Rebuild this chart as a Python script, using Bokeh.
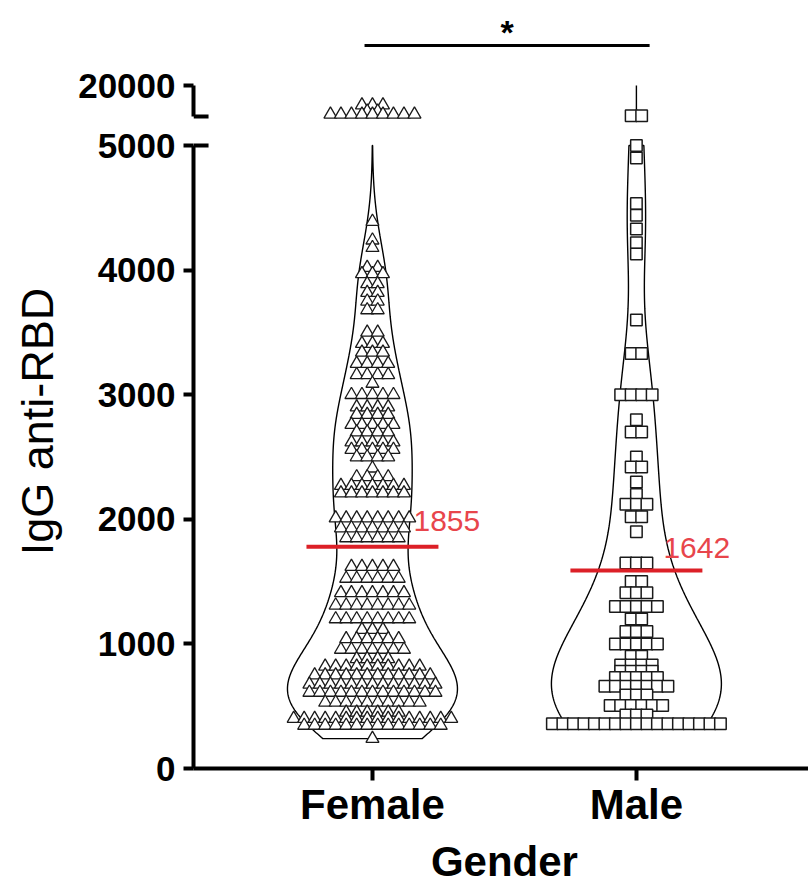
import numpy as np
from bokeh.plotting import figure
from bokeh.layouts import column, row
from bokeh.models import FixedTicker, Range1d
from bokeh.embed import file_html
from bokeh.resources import INLINE
from bokeh.core.properties import value

# ---------------- data ----------------
groups = ["Female", "Male"]
group_x = [1, 2]

female_row_values = [10500, 7500, 6000,
                     4390, 4240, 4180, 4020, 3970, 3890, 3820, 3750, 3680, 3500, 3410,
                     3340, 3250, 3160, 3090, 3000, 2900, 2840, 2760, 2700, 2620, 2560,
                     2500, 2410, 2340, 2270, 2210, 2010, 1930, 1850, 1620, 1525, 1410,
                     1310, 1200, 1115, 1040, 955, 880, 820, 750, 675, 610, 530, 450,
                     400, 345, 240]
female_row_counts = [3, 2, 9,
                     1, 1, 1, 2, 3, 2, 2, 2, 2, 2, 3,
                     3, 4, 4, 1, 5, 4, 4, 5, 4, 5, 5,
                     4, 1, 4, 7, 7, 8, 7, 6, 5, 6, 7,
                     8, 8, 3, 6, 7, 4, 10, 12, 13, 13, 10, 6,
                     16, 14, 1]

male_row_values = [5400,
                   5000, 4900, 4535, 4440, 4330, 4220, 4130, 3600, 3330, 3000,
                   2800, 2700, 2500, 2420, 2300, 2200, 2120, 2020, 1900, 1650,
                   1500, 1410, 1300, 1200, 1100, 1000, 900, 830, 780, 730, 660,
                   590, 505, 430, 360]
male_row_counts = [2,
                   1, 1, 1, 1, 1, 1, 1, 1, 2, 4,
                   1, 2, 1, 2, 1, 1, 3, 2, 1, 3,
                   2, 3, 5, 2, 3, 5, 2, 4, 4, 5, 7,
                   3, 6, 3, 17]

male_violin_top = 20000          # violin outline of Male reaches the axis top
mean_line_values = [1780, 1590]  # red lines as drawn
mean_labels = ["1855", "1642"]

y_ticks_lower = [0, 1000, 2000, 3000, 4000, 5000]
y_ticks_upper = [20000]
axis_break = 5000
sig_text = "*"
y_title = "IgG anti-RBD"
x_title = "Gender"

# ---------------- helpers ----------------
FONT = "Liberation Sans"
spacing = 0.0398
max_half = 0.322


def swarm(center, vals, counts):
    xs, ys = [], []
    for v, n in zip(vals, counts):
        for i in range(n):
            xs.append(center + (i - (n - 1) / 2) * spacing)
            ys.append(v)
    return np.array(xs), np.array(ys, float)


def kde(data, grid, bw):
    d = (grid[:, None] - data[None, :]) / bw
    return np.exp(-0.5 * d * d).sum(axis=1)


def violin_parts(center, data, top, bw):
    lo = data.min()
    g_all = np.linspace(lo, top, 3000)
    norm = kde(data, g_all, bw).max()
    parts = []
    g1 = np.linspace(lo, min(top, axis_break), 500)
    w1 = kde(data, g1, bw) / norm * max_half
    parts.append((np.concatenate([center - w1, (center + w1)[::-1]]),
                  np.concatenate([g1, g1[::-1]])))
    if top > axis_break:
        g2 = np.linspace(axis_break, top, 500)
        w2 = kde(data, g2, bw) / norm * max_half
        parts.append((np.concatenate([center - w2, (center + w2)[::-1]]),
                      np.concatenate([g2, g2[::-1]])))
    else:
        parts.append(None)
    return parts


fx, fy = swarm(group_x[0], female_row_values, female_row_counts)
mx, my = swarm(group_x[1], male_row_values, male_row_counts)

f_parts = violin_parts(group_x[0], fy, fy.max(), 290)
m_parts = violin_parts(group_x[1], my, male_violin_top, 420)

TOTAL_H = 891
LEFT_W = 72
MAIN_W = 808 - LEFT_W
BORDER_L = 193 - LEFT_W
TOP_H = 124
LOW_H = 706
BOT_H = TOTAL_H - TOP_H - LOW_H

xr = Range1d(0.322, 2.652)


def clean(p):
    p.grid.visible = False
    p.outline_line_color = None
    p.background_fill_color = "white"
    p.border_fill_color = "white"


# ---------------- top (broken) segment ----------------
ptop = figure(width=MAIN_W, height=TOP_H, x_range=xr, y_range=Range1d(1129, 61132),
              output_backend="svg", toolbar_location=None, x_axis_location=None,
              min_border_left=BORDER_L, min_border_right=0, min_border_top=0,
              min_border_bottom=0)
# lower segment
plow = figure(width=MAIN_W, height=LOW_H, x_range=xr, y_range=Range1d(0, 5169),
              output_backend="svg", toolbar_location=None,
              min_border_left=BORDER_L, min_border_right=0, min_border_top=0,
              min_border_bottom=LOW_H - 644)
# strip for x title
pbot = figure(width=MAIN_W, height=BOT_H, x_range=xr, y_range=Range1d(0, BOT_H),
              output_backend="svg", toolbar_location=None, x_axis_location=None,
              y_axis_location=None, min_border_left=BORDER_L, min_border_right=0,
              min_border_top=0, min_border_bottom=0)
# strip for y title
pleft = figure(width=LEFT_W, height=TOTAL_H, x_range=Range1d(0, LEFT_W),
               y_range=Range1d(0, TOTAL_H), output_backend="svg", toolbar_location=None,
               x_axis_location=None, y_axis_location=None, min_border=0)

for p in (ptop, plow, pbot, pleft):
    clean(p)

for p in (ptop, plow):
    ax = p.yaxis[0]
    ax.axis_line_width = 4
    ax.major_tick_line_width = 4
    ax.major_tick_out = 10
    ax.major_tick_in = 0
    ax.minor_tick_line_color = None
    ax.major_label_text_font = FONT
    ax.major_label_text_font_style = "bold"
    ax.major_label_text_font_size = "35px"
    ax.major_label_text_color = "black"
    ax.major_label_standoff = 8
    # break caps pointing into the plot
    p.segment(x0=[xr.start], x1=[xr.start + 0.057], y0=[axis_break], y1=[axis_break],
              line_color="black", line_width=4)

ptop.yaxis[0].ticker = FixedTicker(ticks=y_ticks_upper)
ptop.yaxis[0].bounds = (axis_break, y_ticks_upper[-1])
plow.yaxis[0].ticker = FixedTicker(ticks=y_ticks_lower)
plow.yaxis[0].bounds = (0, axis_break)

xa = plow.xaxis[0]
xa.ticker = FixedTicker(ticks=group_x)
xa.major_label_overrides = {gx: g for gx, g in zip(group_x, groups)}
xa.axis_line_width = 4
xa.major_tick_line_width = 4
xa.major_tick_out = 12
xa.major_tick_in = 0
xa.minor_tick_line_color = None
xa.major_label_text_font = FONT
xa.major_label_text_font_style = "bold"
xa.major_label_text_font_size = "42px"
xa.major_label_text_color = "black"
xa.major_label_standoff = 0

# violins
for parts in (f_parts, m_parts):
    vx, vy = parts[0]
    plow.patch(vx, vy, fill_color=None, line_color="black", line_width=1.4)
    if parts[1] is not None:
        vx, vy = parts[1]
        ptop.patch(vx, vy, fill_color=None, line_color="black", line_width=1.4)

# points
lo_f = fy <= axis_break
lo_m = my <= axis_break
plow.scatter(fx[lo_f], fy[lo_f], marker="triangle", size=13, fill_color="white",
             line_color="#1a1a1a", line_width=1.3)
ptop.scatter(fx[~lo_f], fy[~lo_f], marker="triangle", size=13, fill_color="white",
             line_color="#1a1a1a", line_width=1.3)
plow.scatter(mx[lo_m], my[lo_m], marker="square", size=11.5, fill_color="white",
             line_color="#1a1a1a", line_width=1.5)
ptop.scatter(mx[~lo_m], my[~lo_m], marker="square", size=11.5, fill_color="white",
             line_color="#1a1a1a", line_width=1.5)

# mean lines and labels
plow.segment(x0=[g - 0.25 for g in group_x], x1=[g + 0.25 for g in group_x],
             y0=mean_line_values, y1=mean_line_values, line_color="#dc2027", line_width=4)
plow.text(x=group_x, y=mean_line_values, text=mean_labels, x_offset=[41, 27],
          y_offset=[-26, -22], text_font=value(FONT), text_font_size="30px",
          text_color="#e8454b", text_baseline="alphabetic", text_align="left")

# significance bar
sig_y = 39356
ptop.segment(x0=[0.97], x1=[2.05], y0=[sig_y], y1=[sig_y], line_color="black", line_width=3)
ptop.text(x=[1.51], y=[sig_y], text=[sig_text], y_offset=-14, text_font=value(FONT),
          text_font_style="bold", text_font_size="34px", text_color="black",
          text_align="center", text_baseline="alphabetic")

# axis titles
pleft.text(x=[37], y=[TOTAL_H - 421], text=[y_title], angle=np.pi / 2,
           text_font=value(FONT), text_font_size="45px", text_color="black",
           text_align="center", text_baseline="middle")
pbot.text(x=[1.5], y=[30], text=[x_title], text_font=value(FONT),
          text_font_style="bold", text_font_size="42px", text_color="black",
          text_align="center", text_baseline="middle")

layout = row(pleft, column(ptop, plow, pbot, spacing=0), spacing=0)
open("out.html", "w").write(file_html(layout, INLINE))
